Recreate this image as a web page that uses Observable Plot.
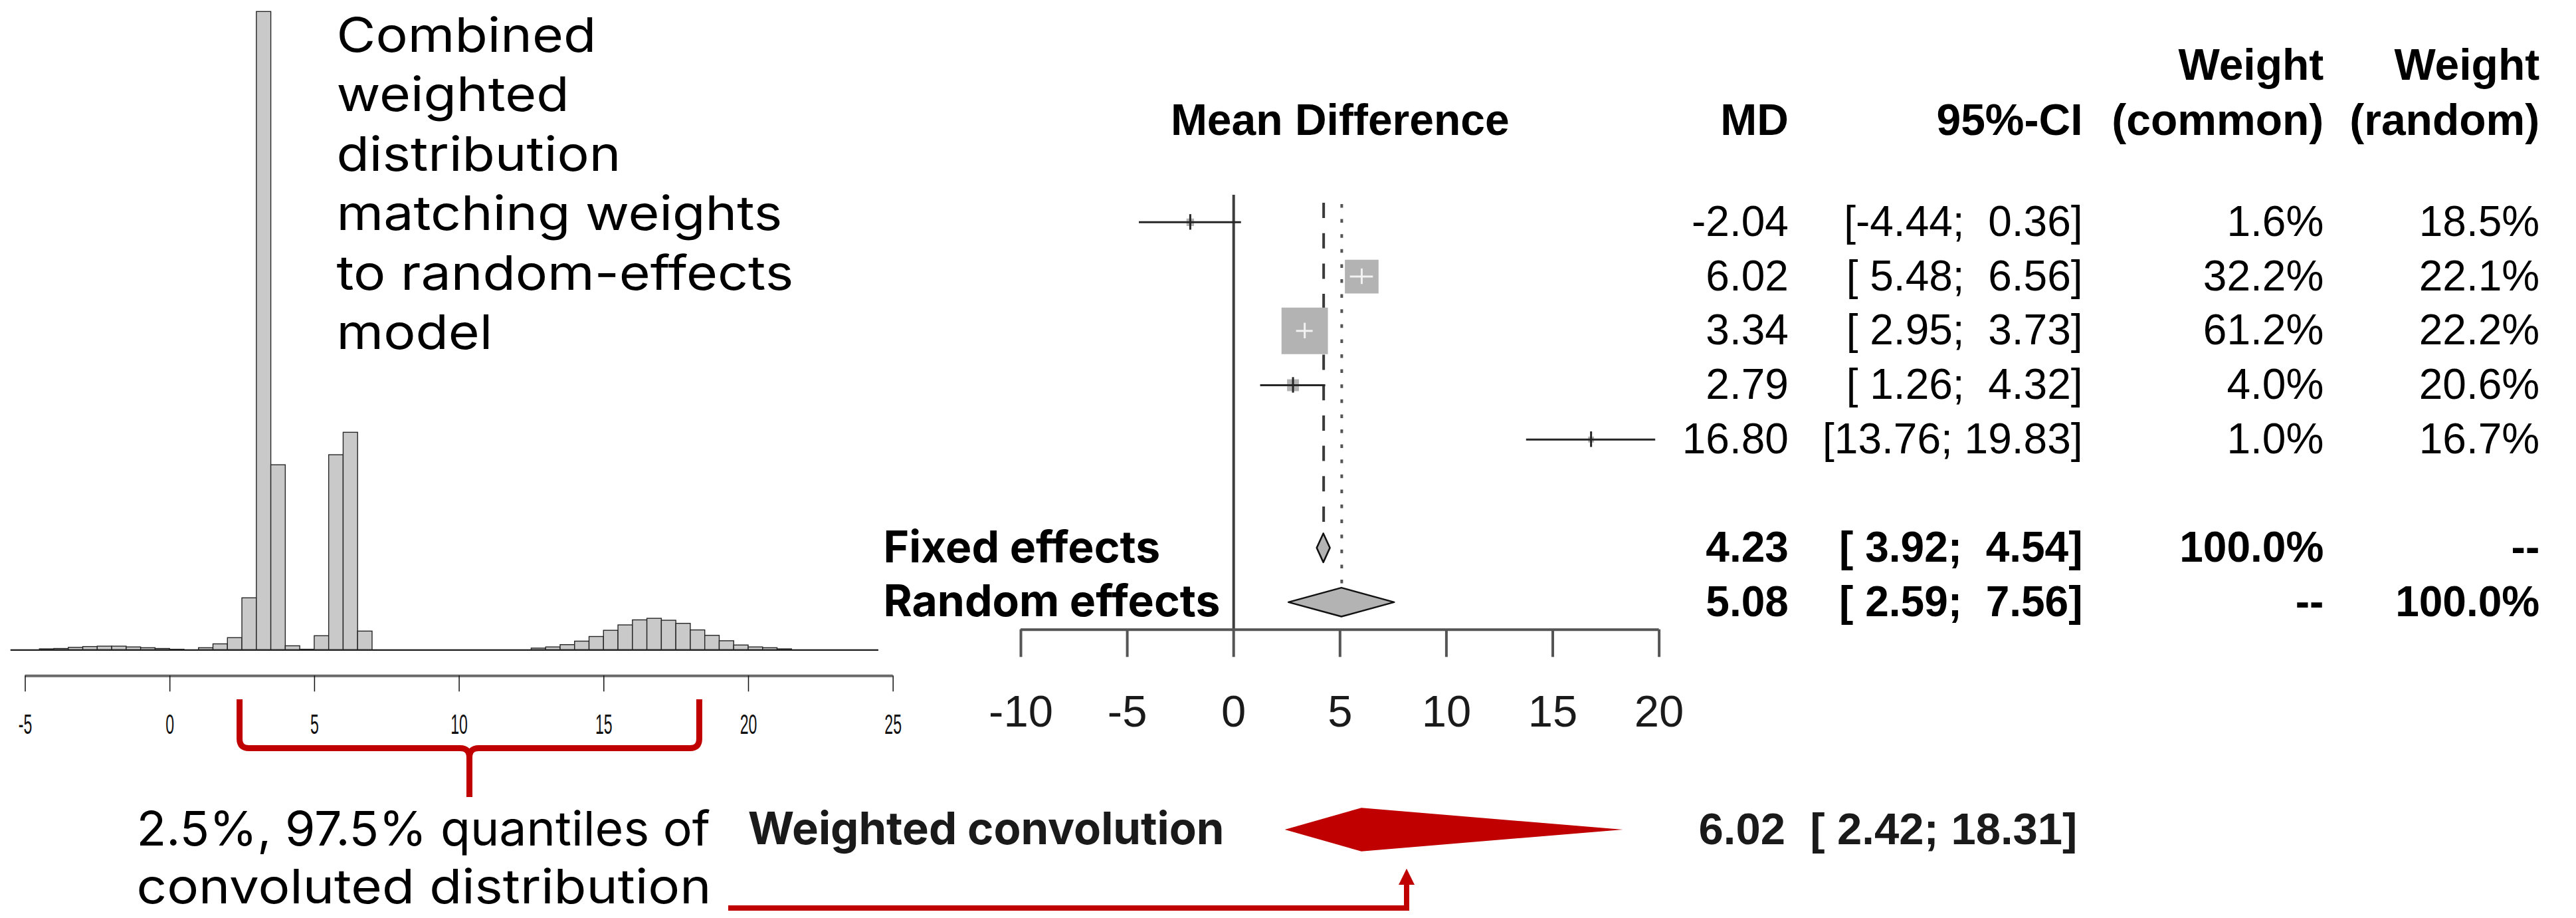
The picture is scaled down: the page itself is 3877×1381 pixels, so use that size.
<!DOCTYPE html>
<html>
<head>
<meta charset="utf-8">
<script src="https://cdn.jsdelivr.net/npm/d3@7"></script>
<script src="https://cdn.jsdelivr.net/npm/@observablehq/plot@0.6"></script>
<style>
  html, body { margin: 0; padding: 0; background: #fff; }
  #wrap { position: relative; width: 3877px; height: 1381px; overflow: hidden; background: #fff; }
  #wrap > svg { position: absolute; left: 0; top: 0; }
</style>
</head>
<body>
<div id="wrap"></div>
<script>
// ---------------- DATA ----------------
// Histogram of the combined weighted distribution (bin lower edges, bin width 0.5; relative bin heights)
const histBinStart = [-4.5, -4, -3.5, -3, -2.5, -2, -1.5, -1, -0.5, 0,
                      1, 1.5, 2, 2.5, 3, 3.5, 4, 4.5, 5, 5.5, 6, 6.5,
                      12.5, 13, 13.5, 14, 14.5, 15, 15.5, 16, 16.5, 17, 17.5, 18, 18.5, 19, 19.5, 20, 20.5, 21];
const histDensity  = [0.02, 0.03, 0.06, 0.08, 0.09, 0.09, 0.07, 0.05, 0.03, 0.01,
                      0.05, 0.15, 0.31, 1.34, 16.50, 4.78, 0.10, 0.01, 0.36, 5.04, 5.62, 0.48,
                      0.04, 0.07, 0.13, 0.22, 0.34, 0.50, 0.64, 0.77, 0.81, 0.76, 0.68, 0.51, 0.37, 0.23, 0.12, 0.07, 0.05, 0.02];
const histBinWidth = 0.5;
const histExtent = [-5.5, 24.5];
const histTicks = [-5, 0, 5, 10, 15, 20, 25];

// Forest plot
const studyMD     = [-2.04, 6.02, 3.34, 2.79, 16.80];
const studyLower  = [-4.44, 5.48, 2.95, 1.26, 13.76];
const studyUpper  = [0.36, 6.56, 3.73, 4.32, 19.83];
const weightCommon = [1.6, 32.2, 61.2, 4.0, 1.0];
const weightRandom = [18.5, 22.1, 22.2, 20.6, 16.7];

const pooledLabels = ["Fixed effects", "Random effects"];
const pooledMD     = [4.23, 5.08];
const pooledLower  = [3.92, 2.59];
const pooledUpper  = [4.54, 7.56];
const pooledWCommon = ["100.0%", "--"];
const pooledWRandom = ["--", "100.0%"];

const convLabel = "Weighted convolution";
const convMD = 6.02, convLower = 2.42, convUpper = 18.31;

const forestTicks = [-10, -5, 0, 5, 10, 15, 20];
const headerTitle = "Mean Difference";
const headerCols = ["MD", "95%-CI", "(common)", "(random)"];
const headerTop = ["", "", "Weight", "Weight"];

const noteCombined = "Combined\nweighted\ndistribution\nmatching weights\nto random-effects\nmodel";
const noteQuantile = ["2.5%, 97.5% quantiles of", "convoluted distribution"];

// ---------------- LAYOUT ----------------
const W = 3877, H = 1381;
const RED = "#c00000";
const SANS = "Liberation Sans, Arial, Helvetica, sans-serif";
const GEO = "Inter, Lato, sans-serif";
const wrap = document.getElementById("wrap");
const fmt2 = v => v.toFixed(2);
const pad5 = v => fmt2(v).padStart(5, " ");
const ciText = (lo, hi) => `[${pad5(lo)}; ${pad5(hi)}]`;

function squeezeNode(node, sx) {
  d3.select(node).selectAll("text").each(function () {
    const t = this.getAttribute("transform");
    if (t) this.setAttribute("transform", t + ` scale(${sx},1)`);
    else {
      const x = +this.getAttribute("x") || 0;
      this.setAttribute("transform", `translate(${x},0) scale(${sx},1) translate(${-x},0)`);
    }
  });
}

// ---------------- HISTOGRAM ----------------
const hist = histBinStart.map((x0, i) => ({x0, x1: x0 + histBinWidth, h: histDensity[i]}));
const histTopPx = 17.3, histBasePx = 977.3;
const qLine = 87;
const histPlot = Plot.plot({
  width: 1400, height: H,
  marginLeft: 0, marginRight: 0, marginTop: histTopPx, marginBottom: H - histBasePx,
  style: {background: "transparent", overflow: "visible"},
  x: {domain: d3.extent(histTicks), range: [37.5, 1343.7]},
  y: {domain: [0, d3.max(histDensity)], axis: null},
  marks: [
    Plot.ruleY([0], {x1: histExtent[0], x2: histExtent[1], stroke: "#1c1c1c", strokeWidth: 2.2}),
    Plot.rectY(hist, {x1: "x0", x2: "x1", y: "h", fill: "#c9c9c9", stroke: "#262626", strokeWidth: 1.4}),
    Plot.ruleY([0], {x1: d3.min(histTicks), x2: d3.max(histTicks), dy: 39, stroke: "#6a6a6a", strokeWidth: 4}),
    Plot.axisX({ticks: histTicks, tickFormat: d => String(d), tickSize: 24, tickPadding: 33, dy: 39,
      stroke: "#111", strokeWidth: 1.5, fontSize: 42, fontFamily: SANS, fill: "#111", label: null}),
    Plot.text([noteCombined], {text: d => d, frameAnchor: "top-left", dx: 506, dy: -3.4, lineAnchor: "top",
      lineHeight: 1.243, fontSize: 72, fontFamily: GEO, fill: "#000", textAnchor: "start"}),
    Plot.text([noteQuantile[0]], {text: d => d, frameAnchor: "bottom-left", dx: 205, dy: 242.6, lineAnchor: "top",
      fontSize: 72, fontFamily: GEO, fill: "#000", textAnchor: "start"}),
    Plot.text([noteQuantile[1]], {text: d => d, frameAnchor: "bottom-left", dx: 205, dy: 242.6 + qLine, lineAnchor: "top",
      fontSize: 72, fontFamily: GEO, fill: "#000", textAnchor: "start"})
  ]
});
squeezeNode(d3.select(histPlot).select('g[aria-label="x-axis tick label"]').node(), 0.55);
{
  const notes = d3.select(histPlot).selectAll('g[aria-label="text"]').nodes();
  squeezeNode(notes[0], 1.12);
  squeezeNode(notes[1], 1.02);
  squeezeNode(notes[2], 1.11);
}
wrap.appendChild(histPlot);

// ---------------- FOREST PLOT ----------------
const nRows = 8;                 // 5 studies, 1 blank, fixed, random
const forestRange = [1536, 2496.6];
const pxPerUnit = (forestRange[1] - forestRange[0]) / (d3.max(forestTicks) - d3.min(forestTicks));
const rMax = 39.4;               // radius for largest weight -> square side rMax*sqrt(pi)
const sideOf = w => rMax * Math.sqrt(w / d3.max(weightCommon)) * Math.sqrt(Math.PI);
const studies = studyMD.map((md, i) => ({
  row: i, md, lo: studyLower[i], hi: studyUpper[i], wc: weightCommon[i], wr: weightRandom[i],
  inside: (studyUpper[i] - studyLower[i]) * pxPerUnit < sideOf(weightCommon[i])
}));
const pooled = pooledLabels.map((label, i) => ({
  row: 6 + i, label, md: pooledMD[i], lo: pooledLower[i], hi: pooledUpper[i],
  wc: pooledWCommon[i], wr: pooledWRandom[i]
}));
const dh = 0.266;                // diamond half height (rows)
const tickH = 0.143;             // half length of estimate tick (rows)
const diamonds = pooled.flatMap(p => [
  {key: p.label, x: p.lo, y1: p.row, y2: p.row},
  {key: p.label, x: p.md, y1: p.row - dh, y2: p.row + dh},
  {key: p.label, x: p.hi, y1: p.row, y2: p.row}
]);
const forestTopPx = 293, forestBottomPx = 946.7;
const colRight = [2691.4, 3134, 3496.8, 3821.7];
const tableFont = 64, headFont = 66;

const studyCells = studies.map(s => ({row: s.row, c: [fmt2(s.md), ciText(s.lo, s.hi), s.wc.toFixed(1) + "%", s.wr.toFixed(1) + "%"]}));
const pooledCells = pooled.map(p => ({row: p.row, c: [fmt2(p.md), ciText(p.lo, p.hi), p.wc, p.wr]}));

const tableMarks = colRight.flatMap((cx, j) => [
  Plot.text(studyCells, {y: "row", text: d => d.c[j], frameAnchor: "left", dx: cx, textAnchor: "end",
    fontFamily: SANS, fontSize: tableFont, fill: "#000"}),
  Plot.text(pooledCells, {y: "row", text: d => d.c[j], frameAnchor: "left", dx: cx, textAnchor: "end",
    fontFamily: SANS, fontSize: tableFont, fontWeight: "bold", fill: "#000"}),
  Plot.text([headerCols[j]], {text: d => d, frameAnchor: "top-left", dx: cx, dy: -112, lineAnchor: "middle", textAnchor: "end",
    fontFamily: SANS, fontSize: headFont, fontWeight: "bold", fill: "#000"}),
  Plot.text([headerTop[j]], {text: d => d, frameAnchor: "top-left", dx: cx, dy: -195, lineAnchor: "middle", textAnchor: "end",
    fontFamily: SANS, fontSize: headFont, fontWeight: "bold", fill: "#000"})
]);

const forestPlot = Plot.plot({
  width: W, height: H,
  marginLeft: 0, marginRight: 0, marginTop: forestTopPx, marginBottom: H - forestBottomPx,
  style: {background: "transparent", overflow: "visible"},
  x: {domain: d3.extent(forestTicks), range: forestRange},
  y: {domain: [nRows - 0.5, -0.5], axis: null},
  r: {type: "sqrt", domain: [0, d3.max(weightCommon)], range: [0, rMax]},
  color: {type: "identity"},
  marks: [
    Plot.ruleX([0], {stroke: "#3d3d3d", strokeWidth: 4}),
    Plot.ruleX([pooledMD[0]], {y1: -0.5, y2: pooled[0].row - dh, stroke: "#3a3a3a", strokeWidth: 4,
      strokeDasharray: "23,22.7", strokeDashoffset: 33.7}),
    Plot.ruleX([pooledMD[1]], {y1: -0.5, y2: pooled[1].row - dh, stroke: "#555", strokeWidth: 4,
      strokeDasharray: "5.5,17.1", strokeDashoffset: -14}),
    Plot.dot(studies, {x: "md", y: "row", r: "wc", symbol: "square", fill: "#b3b3b3", stroke: "none"}),
    Plot.ruleY(studies, {x1: "lo", x2: "hi", y: "row", stroke: d => d.inside ? "#f2f2f2" : "#262626", strokeWidth: 3}),
    Plot.ruleX(studies, {x: "md", y1: d => d.row - tickH, y2: d => d.row + tickH,
      stroke: d => d.inside ? "#f2f2f2" : "#262626", strokeWidth: 3}),
    Plot.areaY(diamonds, {x: "x", y1: "y1", y2: "y2", z: "key", fill: "#b3b3b3", stroke: "#111", strokeWidth: 2.5}),
    Plot.ruleY([nRows - 0.5], {x1: d3.min(forestTicks), x2: d3.max(forestTicks), stroke: "#555", strokeWidth: 4}),
    Plot.axisX({ticks: forestTicks, tickFormat: d => String(d), tickSize: 41.6, tickPadding: 57,
      stroke: "#555", strokeWidth: 4, fontSize: 67, fontFamily: SANS, fill: "#1a1a1a", label: null}),
    Plot.text(pooled, {y: "row", text: "label", frameAnchor: "left", dx: 1329, textAnchor: "start",
      fontFamily: GEO, fontWeight: 700, fontSize: 66, fill: "#000"}),
    Plot.text([headerTitle], {text: d => d, x: d3.mean(d3.extent(forestTicks)), frameAnchor: "top", dy: -112, lineAnchor: "middle",
      fontFamily: SANS, fontSize: headFont, fontWeight: "bold", fill: "#000"}),
    ...tableMarks
  ]
});
wrap.appendChild(forestPlot);

// ---------------- WEIGHTED CONVOLUTION ROW ----------------
const convH = 0.40;
const convDiamond = [
  {x: convLower, y1: 0, y2: 0},
  {x: convMD, y1: -convH, y2: convH},
  {x: convUpper, y1: 0, y2: 0}
];
const convCenterPx = 1248, rowPx = (forestBottomPx - forestTopPx) / nRows;
const convPlot = Plot.plot({
  width: W, height: H,
  marginLeft: 0, marginRight: 0, marginTop: convCenterPx - rowPx / 2, marginBottom: H - (convCenterPx + rowPx / 2),
  style: {background: "transparent", overflow: "visible"},
  x: {domain: d3.extent(forestTicks), range: forestRange, axis: null},
  y: {domain: [0.5, -0.5], axis: null},
  marks: [
    Plot.areaY(convDiamond, {x: "x", y1: "y1", y2: "y2", fill: RED}),
    Plot.text([convLabel], {text: d => d, frameAnchor: "left", dx: 1842, textAnchor: "end",
      fontFamily: GEO, fontWeight: 700, fontSize: 67, fill: "#1a1a1a"}),
    Plot.text([`${fmt2(convMD)}  [ ${fmt2(convLower)}; ${fmt2(convUpper)}]`], {text: d => d, frameAnchor: "left", dx: 2556,
      textAnchor: "start", fontFamily: SANS, fontWeight: "bold", fontSize: 67, fill: "#1a1a1a"})
  ]
});
wrap.appendChild(convPlot);

// ---------------- ANNOTATIONS (bracket + arrow) ----------------
const hx = histPlot.scale("x");
const xL = hx.apply(convLower), xR = hx.apply(convUpper), xM = (xL + xR) / 2;
const ov = d3.create("svg").attr("width", W).attr("height", H);
const bTop = 1052, bMid = 1125.5, bTip = 1199, rad = 14;
const p = d3.path();
p.moveTo(xL, bTop); p.lineTo(xL, bMid - rad); p.quadraticCurveTo(xL, bMid, xL + rad, bMid);
p.lineTo(xM - rad, bMid); p.quadraticCurveTo(xM, bMid, xM, bMid + rad); p.lineTo(xM, bTip);
p.moveTo(xR, bTop); p.lineTo(xR, bMid - rad); p.quadraticCurveTo(xR, bMid, xR - rad, bMid);
p.lineTo(xM + rad, bMid); p.quadraticCurveTo(xM, bMid, xM, bMid + rad);
ov.append("path").attr("d", p.toString()).attr("fill", "none").attr("stroke", RED).attr("stroke-width", 9);
ov.append("path").attr("d", "M1096,1366 H2117 V1328").attr("fill", "none").attr("stroke", RED).attr("stroke-width", 8);
ov.append("path").attr("d", "M2117,1306.7 L2129,1331 L2105,1331 Z").attr("fill", RED);
wrap.appendChild(ov.node());
</script>
</body>
</html>
